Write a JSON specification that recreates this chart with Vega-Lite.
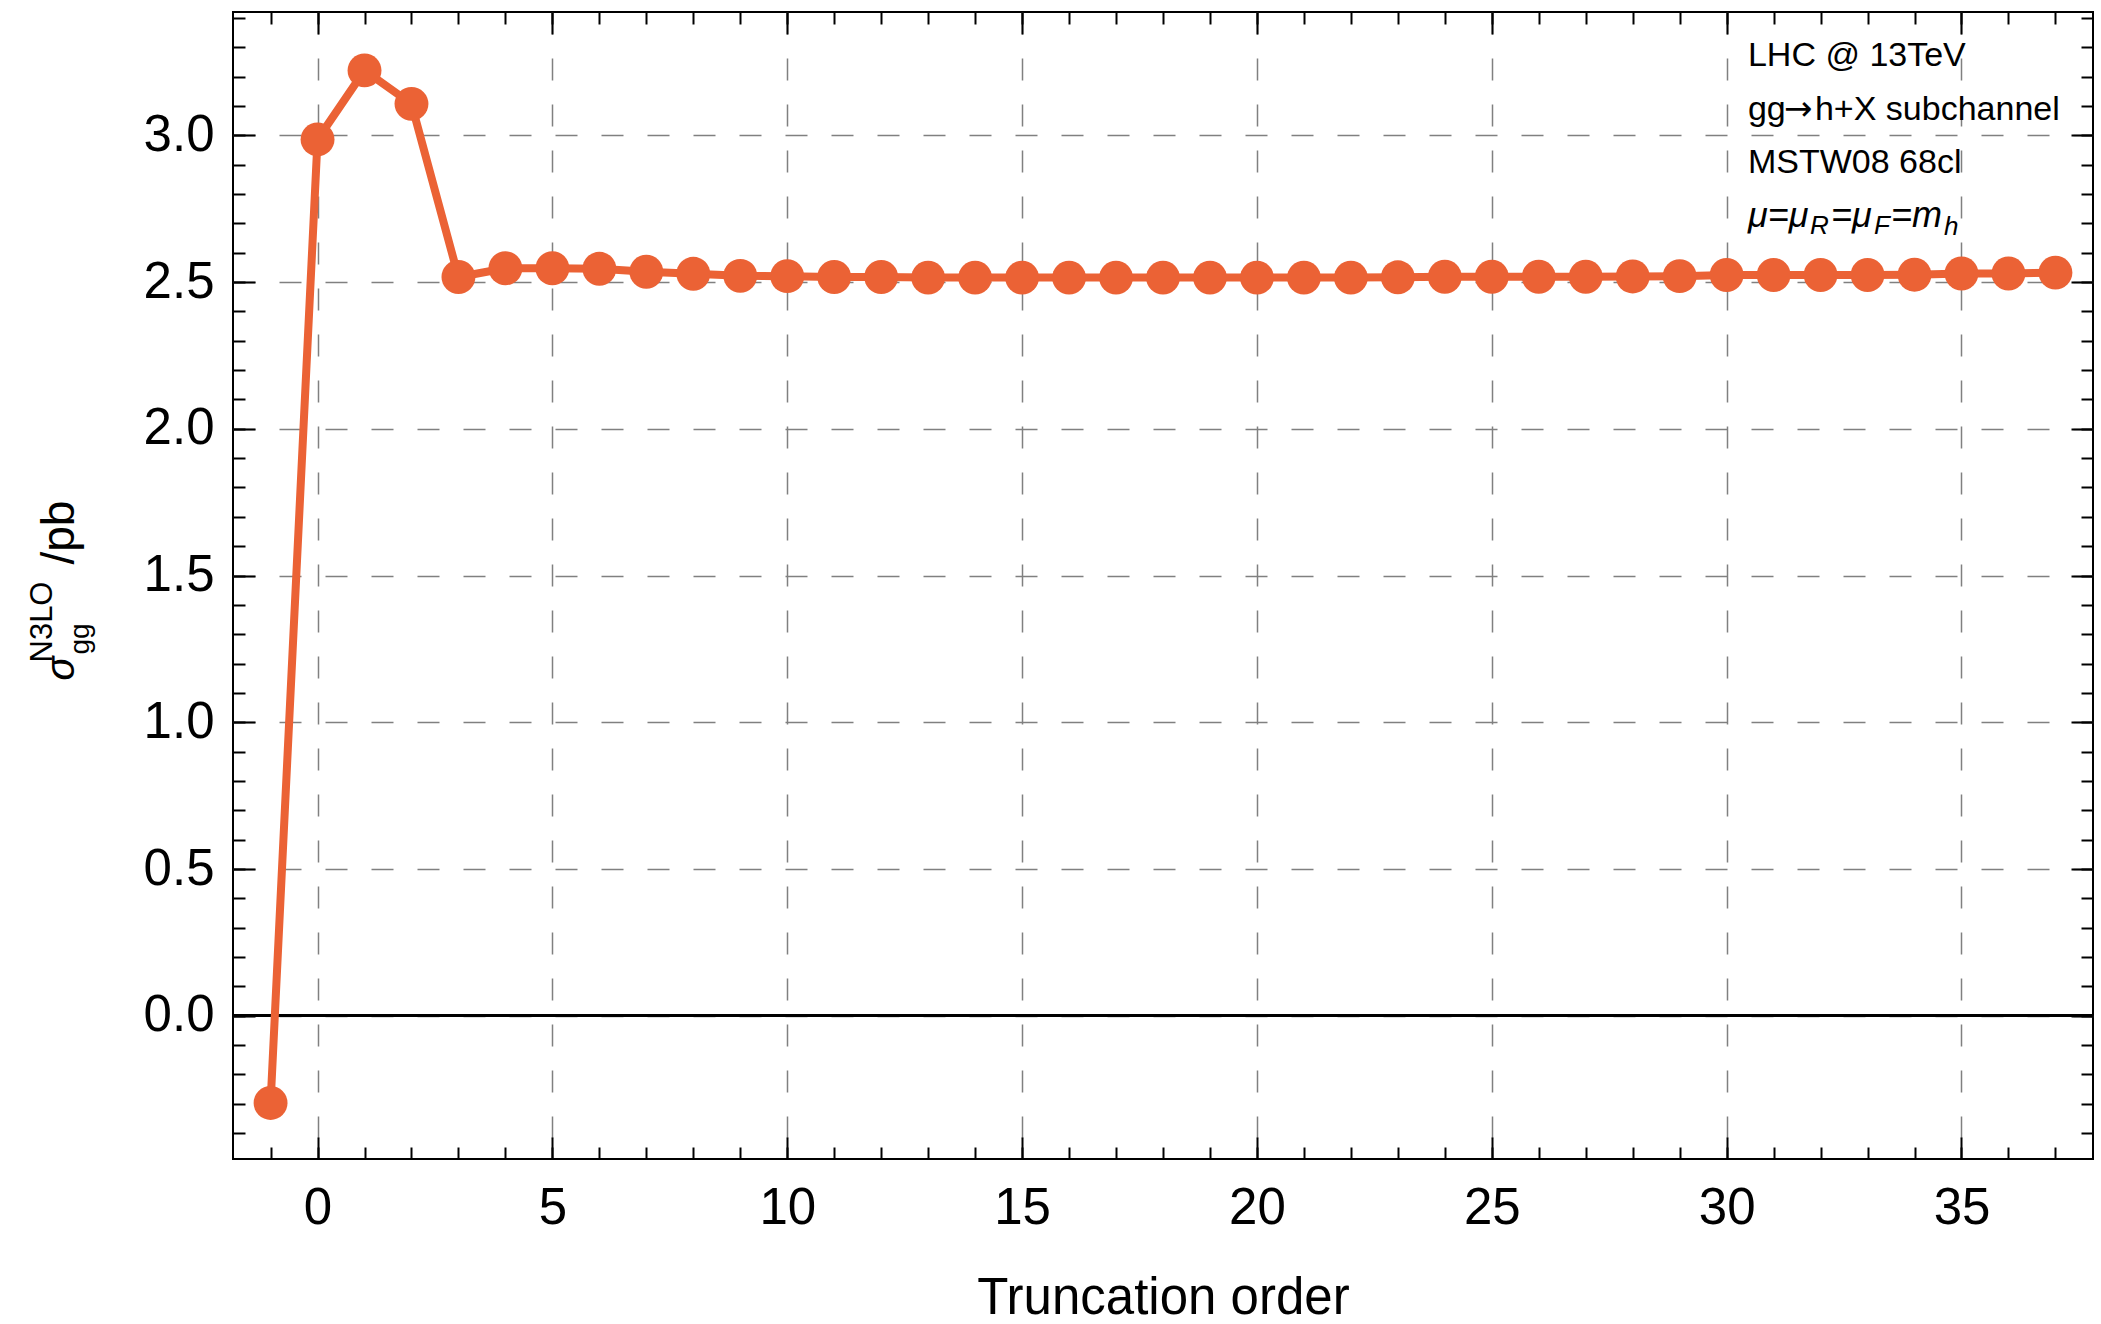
{
  "$schema": "https://vega.github.io/schema/vega-lite/v6.json",
  "width": 1860,
  "height": 1147,
  "autosize": {"type": "none"},
  "padding": {"left": 233, "top": 12, "right": 8, "bottom": 165},
  "background": "white",
  "config": {
    "view": {"stroke": "#000000", "strokeWidth": 2},
    "axis": {
      "labelFont": "Liberation Sans",
      "titleFont": "Liberation Sans",
      "labelColor": "#000000",
      "titleColor": "#000000",
      "titleFontWeight": "normal",
      "tickColor": "#000000",
      "tickWidth": 2,
      "domain": false,
      "gridColor": "#808080",
      "gridWidth": 1.5,
      "gridDash": [22, 24],
      "gridOpacity": 1
    },
    "text": {"font": "Liberation Sans", "color": "#000000"}
  },
  "datasets": {
    "series": [
      {"order": -1, "sigma": -0.297},
      {"order": 0, "sigma": 2.986},
      {"order": 1, "sigma": 3.221},
      {"order": 2, "sigma": 3.107},
      {"order": 3, "sigma": 2.517},
      {"order": 4, "sigma": 2.547},
      {"order": 5, "sigma": 2.547},
      {"order": 6, "sigma": 2.545},
      {"order": 7, "sigma": 2.535},
      {"order": 8, "sigma": 2.528},
      {"order": 9, "sigma": 2.521},
      {"order": 10, "sigma": 2.520},
      {"order": 11, "sigma": 2.517},
      {"order": 12, "sigma": 2.517},
      {"order": 13, "sigma": 2.515},
      {"order": 14, "sigma": 2.515},
      {"order": 15, "sigma": 2.515},
      {"order": 16, "sigma": 2.515},
      {"order": 17, "sigma": 2.515},
      {"order": 18, "sigma": 2.515},
      {"order": 19, "sigma": 2.515},
      {"order": 20, "sigma": 2.515},
      {"order": 21, "sigma": 2.515},
      {"order": 22, "sigma": 2.515},
      {"order": 23, "sigma": 2.516},
      {"order": 24, "sigma": 2.518},
      {"order": 25, "sigma": 2.518},
      {"order": 26, "sigma": 2.518},
      {"order": 27, "sigma": 2.518},
      {"order": 28, "sigma": 2.519},
      {"order": 29, "sigma": 2.520},
      {"order": 30, "sigma": 2.524},
      {"order": 31, "sigma": 2.524},
      {"order": 32, "sigma": 2.524},
      {"order": 33, "sigma": 2.524},
      {"order": 34, "sigma": 2.525},
      {"order": 35, "sigma": 2.529},
      {"order": 36, "sigma": 2.529},
      {"order": 37, "sigma": 2.532}
    ],
    "notes": [
      {"id": "l1", "x": 30.454, "y": 3.236, "text": "LHC @ 13TeV"},
      {"id": "l2a", "x": 30.454, "y": 3.052, "text": "gg"},
      {"id": "l2b", "x": 30.454, "y": 3.052, "text": "→"},
      {"id": "l2c", "x": 30.454, "y": 3.052, "text": "h+X subchannel"},
      {"id": "l3", "x": 30.454, "y": 2.871, "text": "MSTW08 68cl"},
      {"id": "m1", "x": 30.454, "y": 2.687, "text": "μ=μ"},
      {"id": "m2", "x": 30.454, "y": 2.687, "text": "=μ"},
      {"id": "m3", "x": 30.454, "y": 2.687, "text": "=m"},
      {"id": "s1", "x": 30.454, "y": 2.687, "text": "R"},
      {"id": "s2", "x": 30.454, "y": 2.687, "text": "F"},
      {"id": "s3", "x": 30.454, "y": 2.687, "text": "h"}
    ]
  },
  "resolve": {"axis": {"x": "independent", "y": "independent"}},
  "layer": [
    {
      "data": {"name": "series"},
      "mark": {"type": "rule", "color": "#000000", "strokeWidth": 2.5},
      "encoding": {
        "y": {"datum": 0, "type": "quantitative", "scale": {"domain": [-0.488, 3.42], "nice": false, "zero": false}, "axis": null}
      }
    },
    {
      "data": {"name": "series"},
      "mark": {"type": "line", "color": "#EB6235", "strokeWidth": 8},
      "encoding": {
        "x": {
          "field": "order", "type": "quantitative",
          "scale": {"domain": [-1.8, 37.8], "nice": false, "zero": false},
          "axis": {
            "orient": "bottom",
            "values": [0, 5, 10, 15, 20, 25, 30, 35],
            "format": "d",
            "grid": true,
            "ticks": true, "tickSize": -22,
            "labels": true, "labelFontSize": 51, "labelPadding": 46,
            "title": "Truncation order", "titleFontSize": 51,
            "titleX": 930, "titleY": 154, "titleAlign": "center", "titleBaseline": "alphabetic"
          }
        },
        "y": {
          "field": "sigma", "type": "quantitative",
          "scale": {"domain": [-0.488, 3.42], "nice": false, "zero": false},
          "axis": {
            "orient": "left",
            "values": [0, 0.5, 1, 1.5, 2, 2.5, 3],
            "format": ".1f",
            "grid": true,
            "ticks": true, "tickSize": -22,
            "labels": true, "labelFontSize": 51, "labelPadding": 41,
            "title": "σ", "titleFontSize": 40, "titleFontStyle": "italic",
            "titleAngle": 270, "titleAlign": "left", "titleBaseline": "alphabetic",
            "titleX": -160, "titleY": 668
          }
        }
      }
    },
    {
      "data": {"name": "series"},
      "mark": {"type": "point", "shape": "circle", "filled": true, "color": "#EB6235", "opacity": 1, "size": 1150},
      "encoding": {
        "x": {
          "field": "order", "type": "quantitative",
          "scale": {"domain": [-1.8, 37.8], "nice": false, "zero": false},
          "axis": {
            "orient": "bottom",
            "values": [-1, 0, 1, 2, 3, 4, 5, 6, 7, 8, 9, 10, 11, 12, 13, 14, 15, 16, 17, 18, 19, 20, 21, 22, 23, 24, 25, 26, 27, 28, 29, 30, 31, 32, 33, 34, 35, 36, 37],
            "grid": false, "labels": false, "ticks": true, "tickSize": -12, "title": null
          }
        },
        "y": {
          "field": "sigma", "type": "quantitative",
          "scale": {"domain": [-0.488, 3.42], "nice": false, "zero": false},
          "axis": {
            "orient": "left",
            "values": [-0.4, -0.3, -0.2, -0.1, 0, 0.1, 0.2, 0.3, 0.4, 0.5, 0.6, 0.7, 0.8, 0.9, 1, 1.1, 1.2, 1.3, 1.4, 1.5, 1.6, 1.7, 1.8, 1.9, 2, 2.1, 2.2, 2.3, 2.4, 2.5, 2.6, 2.7, 2.8, 2.9, 3, 3.1, 3.2, 3.3, 3.4],
            "grid": false, "labels": false, "ticks": true, "tickSize": -12,
            "title": "gg", "titleFontSize": 28,
            "titleAngle": 270, "titleAlign": "left", "titleBaseline": "alphabetic",
            "titleX": -145, "titleY": 642
          }
        }
      }
    },
    {
      "data": {"name": "series"},
      "mark": {"type": "point", "opacity": 0},
      "encoding": {
        "x": {
          "field": "order", "type": "quantitative",
          "scale": {"domain": [-1.8, 37.8], "nice": false, "zero": false},
          "axis": {
            "orient": "top",
            "values": [0, 5, 10, 15, 20, 25, 30, 35],
            "grid": false, "labels": false, "ticks": true, "tickSize": -22, "title": null
          }
        },
        "y": {
          "field": "sigma", "type": "quantitative",
          "scale": {"domain": [-0.488, 3.42], "nice": false, "zero": false},
          "axis": {
            "orient": "right",
            "values": [0, 0.5, 1, 1.5, 2, 2.5, 3],
            "grid": false, "labels": false, "ticks": true, "tickSize": -22,
            "title": "N3LO", "titleFontSize": 31,
            "titleAngle": 270, "titleAlign": "left", "titleBaseline": "alphabetic",
            "titleX": -2042, "titleY": 650
          }
        }
      }
    },
    {
      "data": {"name": "series"},
      "mark": {"type": "point", "opacity": 0},
      "encoding": {
        "x": {
          "field": "order", "type": "quantitative",
          "scale": {"domain": [-1.8, 37.8], "nice": false, "zero": false},
          "axis": {
            "orient": "top",
            "values": [-1, 0, 1, 2, 3, 4, 5, 6, 7, 8, 9, 10, 11, 12, 13, 14, 15, 16, 17, 18, 19, 20, 21, 22, 23, 24, 25, 26, 27, 28, 29, 30, 31, 32, 33, 34, 35, 36, 37],
            "grid": false, "labels": false, "ticks": true, "tickSize": -12, "title": null
          }
        },
        "y": {
          "field": "sigma", "type": "quantitative",
          "scale": {"domain": [-0.488, 3.42], "nice": false, "zero": false},
          "axis": {
            "orient": "right",
            "values": [-0.4, -0.3, -0.2, -0.1, 0, 0.1, 0.2, 0.3, 0.4, 0.5, 0.6, 0.7, 0.8, 0.9, 1, 1.1, 1.2, 1.3, 1.4, 1.5, 1.6, 1.7, 1.8, 1.9, 2, 2.1, 2.2, 2.3, 2.4, 2.5, 2.6, 2.7, 2.8, 2.9, 3, 3.1, 3.2, 3.3, 3.4],
            "grid": false, "labels": false, "ticks": true, "tickSize": -12,
            "title": "/pb", "titleFontSize": 46,
            "titleAngle": 270, "titleAlign": "left", "titleBaseline": "alphabetic",
            "titleX": -2020, "titleY": 552
          }
        }
      }
    },
    {
      "data": {"name": "notes"},
      "transform": [{"filter": {"field": "id", "oneOf": ["l1", "l2a", "l3"]}}],
      "mark": {"type": "text", "align": "left", "baseline": "alphabetic", "fontSize": 34},
      "encoding": {
        "x": {"field": "x", "type": "quantitative", "scale": {"domain": [-1.8, 37.8], "nice": false, "zero": false}, "axis": null},
        "y": {"field": "y", "type": "quantitative", "scale": {"domain": [-0.488, 3.42], "nice": false, "zero": false}, "axis": null},
        "text": {"field": "text"}
      }
    },
    {
      "data": {"name": "notes"},
      "transform": [{"filter": {"field": "id", "equal": "l2b"}}],
      "mark": {"type": "text", "align": "left", "baseline": "alphabetic", "fontSize": 34, "font": "DejaVu Sans", "dx": 36},
      "encoding": {
        "x": {"field": "x", "type": "quantitative", "scale": {"domain": [-1.8, 37.8], "nice": false, "zero": false}, "axis": null},
        "y": {"field": "y", "type": "quantitative", "scale": {"domain": [-0.488, 3.42], "nice": false, "zero": false}, "axis": null},
        "text": {"field": "text"}
      }
    },
    {
      "data": {"name": "notes"},
      "transform": [{"filter": {"field": "id", "equal": "l2c"}}],
      "mark": {"type": "text", "align": "left", "baseline": "alphabetic", "fontSize": 34, "dx": 67},
      "encoding": {
        "x": {"field": "x", "type": "quantitative", "scale": {"domain": [-1.8, 37.8], "nice": false, "zero": false}, "axis": null},
        "y": {"field": "y", "type": "quantitative", "scale": {"domain": [-0.488, 3.42], "nice": false, "zero": false}, "axis": null},
        "text": {"field": "text"}
      }
    },
    {
      "data": {"name": "notes"},
      "transform": [{"filter": {"field": "id", "equal": "m1"}}],
      "mark": {"type": "text", "align": "left", "baseline": "alphabetic", "fontSize": 36, "fontStyle": "italic", "dx": 0},
      "encoding": {
        "x": {"field": "x", "type": "quantitative", "scale": {"domain": [-1.8, 37.8], "nice": false, "zero": false}, "axis": null},
        "y": {"field": "y", "type": "quantitative", "scale": {"domain": [-0.488, 3.42], "nice": false, "zero": false}, "axis": null},
        "text": {"field": "text"}
      }
    },
    {
      "data": {"name": "notes"},
      "transform": [{"filter": {"field": "id", "equal": "m2"}}],
      "mark": {"type": "text", "align": "left", "baseline": "alphabetic", "fontSize": 36, "fontStyle": "italic", "dx": 83},
      "encoding": {
        "x": {"field": "x", "type": "quantitative", "scale": {"domain": [-1.8, 37.8], "nice": false, "zero": false}, "axis": null},
        "y": {"field": "y", "type": "quantitative", "scale": {"domain": [-0.488, 3.42], "nice": false, "zero": false}, "axis": null},
        "text": {"field": "text"}
      }
    },
    {
      "data": {"name": "notes"},
      "transform": [{"filter": {"field": "id", "equal": "m3"}}],
      "mark": {"type": "text", "align": "left", "baseline": "alphabetic", "fontSize": 36, "fontStyle": "italic", "dx": 143},
      "encoding": {
        "x": {"field": "x", "type": "quantitative", "scale": {"domain": [-1.8, 37.8], "nice": false, "zero": false}, "axis": null},
        "y": {"field": "y", "type": "quantitative", "scale": {"domain": [-0.488, 3.42], "nice": false, "zero": false}, "axis": null},
        "text": {"field": "text"}
      }
    },
    {
      "data": {"name": "notes"},
      "transform": [{"filter": {"field": "id", "equal": "s1"}}],
      "mark": {"type": "text", "align": "left", "baseline": "alphabetic", "fontSize": 26, "fontStyle": "italic", "dx": 62, "dy": 7},
      "encoding": {
        "x": {"field": "x", "type": "quantitative", "scale": {"domain": [-1.8, 37.8], "nice": false, "zero": false}, "axis": null},
        "y": {"field": "y", "type": "quantitative", "scale": {"domain": [-0.488, 3.42], "nice": false, "zero": false}, "axis": null},
        "text": {"field": "text"}
      }
    },
    {
      "data": {"name": "notes"},
      "transform": [{"filter": {"field": "id", "equal": "s2"}}],
      "mark": {"type": "text", "align": "left", "baseline": "alphabetic", "fontSize": 26, "fontStyle": "italic", "dx": 126, "dy": 7},
      "encoding": {
        "x": {"field": "x", "type": "quantitative", "scale": {"domain": [-1.8, 37.8], "nice": false, "zero": false}, "axis": null},
        "y": {"field": "y", "type": "quantitative", "scale": {"domain": [-0.488, 3.42], "nice": false, "zero": false}, "axis": null},
        "text": {"field": "text"}
      }
    },
    {
      "data": {"name": "notes"},
      "transform": [{"filter": {"field": "id", "equal": "s3"}}],
      "mark": {"type": "text", "align": "left", "baseline": "alphabetic", "fontSize": 26, "fontStyle": "italic", "dx": 196, "dy": 8},
      "encoding": {
        "x": {"field": "x", "type": "quantitative", "scale": {"domain": [-1.8, 37.8], "nice": false, "zero": false}, "axis": null},
        "y": {"field": "y", "type": "quantitative", "scale": {"domain": [-0.488, 3.42], "nice": false, "zero": false}, "axis": null},
        "text": {"field": "text"}
      }
    }
  ]
}
